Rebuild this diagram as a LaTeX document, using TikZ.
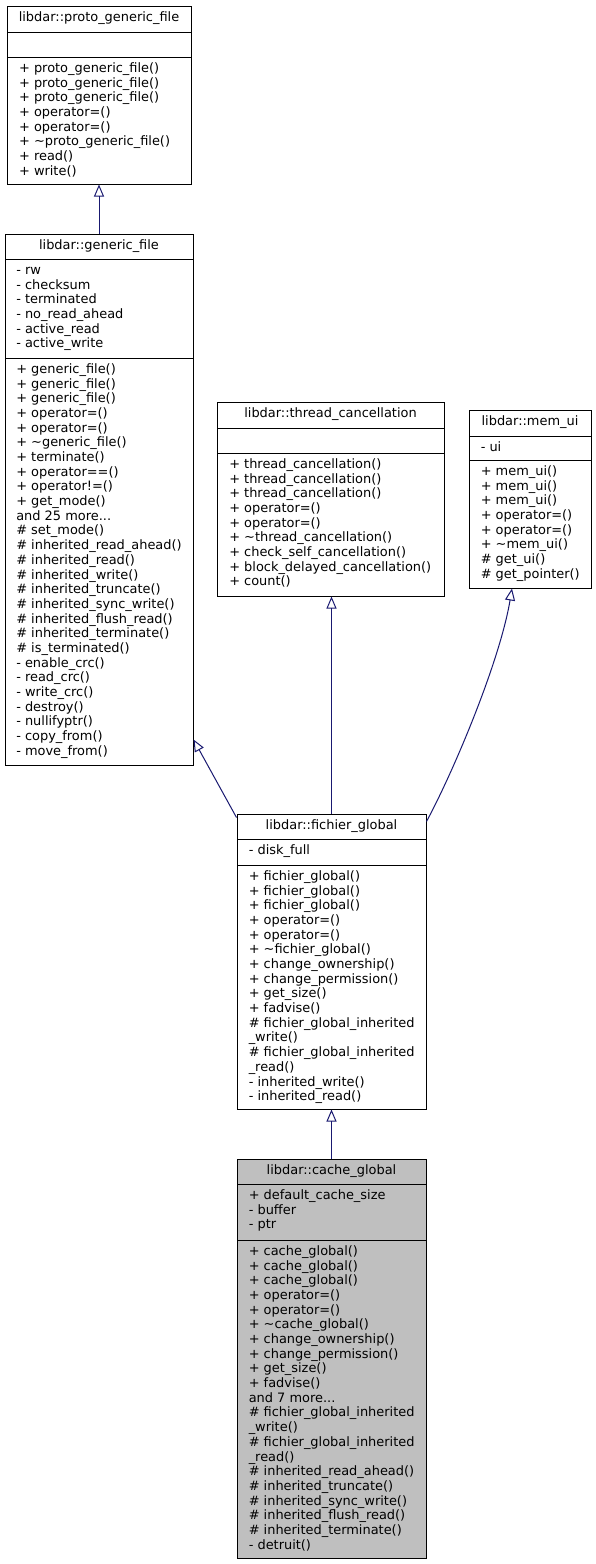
\documentclass[tikz,border=0pt]{standalone}
\usepackage{fontspec}
\setmainfont{DejaVu Sans}
\usetikzlibrary{arrows.meta,fit}
\definecolor{edgeblue}{HTML}{191970}
\definecolor{clsgray}{HTML}{BFBFBF}
\newcommand\moredots{...}
\newcommand\clsmembers[4]{\foreach \m [count=\i from 0] in {#4} {\node[mem] (#1-\i) at (#2,{#3+\i*14.68}) {\m};}}
\begin{document}
\begin{tikzpicture}[x=0.75pt,y=-0.75pt,
  cls/.style={draw=black, line width=0.75pt, inner sep=0pt, fill=white},
  sepline/.style={draw=black, line width=0.75pt},
  ttl/.style={anchor=base, inner sep=0pt, font=\fontsize{9.7pt}{11pt}\selectfont},
  mem/.style={anchor=base west, inner sep=0pt, font=\fontsize{9.7pt}{11pt}\selectfont},
  edge/.style={draw=edgeblue, line width=0.75pt, -{Triangle[open,length=9pt,width=7.5pt]}}]
\useasboundingbox (0,0) rectangle (596,1564);

% proto_generic_file
\node[cls, fit={(7,6) (191,184)}] (pgf) {};
\draw[sepline] (7,32) -- (191,32);
\draw[sepline] (7,57) -- (191,57);
\node[ttl] (pgf-title) at (99,21.5) {libdar::proto\_generic\_file};
\clsmembers{pgfm}{18.8}{72.5}{+ proto\_generic\_file(), + proto\_generic\_file(), + proto\_generic\_file(), + operator=(), + operator=(), + \textasciitilde proto\_generic\_file(), + read(), + write()}

% generic_file
\node[cls, fit={(5,234) (193,765)}] (gf) {};
\draw[sepline] (5,259) -- (193,259);
\draw[sepline] (5,358) -- (193,358);
\node[ttl] (gf-title) at (99,249.5) {libdar::generic\_file};
\clsmembers{gfa}{16}{274.5}{- rw, - checksum, - terminated, - no\_read\_ahead, - active\_read, - active\_write}
\clsmembers{gfm}{16}{373.5}{+ generic\_file(), + generic\_file(), + generic\_file(), + operator=(), + operator=(), + \textasciitilde generic\_file(), + terminate(), + operator==(), + operator!=(), + get\_mode(), and 25 more\moredots, \# set\_mode(), \# inherited\_read\_ahead(), \# inherited\_read(), \# inherited\_write(), \# inherited\_truncate(), \# inherited\_sync\_write(), \# inherited\_flush\_read(), \# inherited\_terminate(), \# is\_terminated(), - enable\_crc(), - read\_crc(), - write\_crc(), - destroy(), - nullifyptr(), - copy\_from(), - move\_from()}

% thread_cancellation
\node[cls, fit={(217,402) (444,596)}] (tc) {};
\draw[sepline] (217,428) -- (444,428);
\draw[sepline] (217,453) -- (444,453);
\node[ttl] (tc-title) at (330.5,417.5) {libdar::thread\_cancellation};
\clsmembers{tcm}{229}{468.5}{+ thread\_cancellation(), + thread\_cancellation(), + thread\_cancellation(), + operator=(), + operator=(), + \textasciitilde thread\_cancellation(), + check\_self\_cancellation(), + block\_delayed\_cancellation(), + count()}

% mem_ui
\node[cls, fit={(469,410) (591,588)}] (mu) {};
\draw[sepline] (469,436) -- (591,436);
\draw[sepline] (469,460) -- (591,460);
\node[ttl] (mu-title) at (530,425.5) {libdar::mem\_ui};
\clsmembers{mua}{480.5}{451.5}{- ui}
\clsmembers{mum}{480.5}{475.5}{+ mem\_ui(), + mem\_ui(), + mem\_ui(), + operator=(), + operator=(), + \textasciitilde mem\_ui(), \# get\_ui(), \# get\_pointer()}

% fichier_global
\node[cls, fit={(237,814) (426,1109)}] (fg) {};
\draw[sepline] (237,839) -- (426,839);
\draw[sepline] (237,865) -- (426,865);
\node[ttl] (fg-title) at (331.5,829.5) {libdar::fichier\_global};
\clsmembers{fga}{248.5}{854.5}{- disk\_full}
\clsmembers{fgm}{248.5}{880.5}{+ fichier\_global(), + fichier\_global(), + fichier\_global(), + operator=(), + operator=(), + \textasciitilde fichier\_global(), + change\_ownership(), + change\_permission(), + get\_size(), + fadvise(), \# fichier\_global\_inherited, \_write(), \# fichier\_global\_inherited, \_read(), - inherited\_write(), - inherited\_read()}

% cache_global
\node[cls, fill=clsgray, fit={(237,1159) (426,1558)}] (cg) {};
\draw[sepline] (237,1184) -- (426,1184);
\draw[sepline] (237,1240) -- (426,1240);
\node[ttl] (cg-title) at (331.5,1174.5) {libdar::cache\_global};
\clsmembers{cga}{248.5}{1199.5}{+ default\_cache\_size, - buffer, - ptr}
\clsmembers{cgm}{248.5}{1255.5}{+ cache\_global(), + cache\_global(), + cache\_global(), + operator=(), + operator=(), + \textasciitilde cache\_global(), + change\_ownership(), + change\_permission(), + get\_size(), + fadvise(), and 7 more\moredots, \# fichier\_global\_inherited, \_write(), \# fichier\_global\_inherited, \_read(), \# inherited\_read\_ahead(), \# inherited\_truncate(), \# inherited\_sync\_write(), \# inherited\_flush\_read(), \# inherited\_terminate(), - detruit()}

% inheritance edges
\draw[edge] (gf.north) -- (pgf.south);
\draw[edge] ([yshift=-3pt]fg.north west) -- ([yshift=19.5pt]gf.south east);
\draw[edge] (fg.north) -- (fg.north |- tc.south);
\draw[edge] ([yshift=-6pt]fg.north east) .. controls +(28,-52) and +(-12,72) .. ([xshift=-13.5pt]mu.south);
\draw[edge] (cg.north) -- (fg.south);
\end{tikzpicture}
\end{document}
